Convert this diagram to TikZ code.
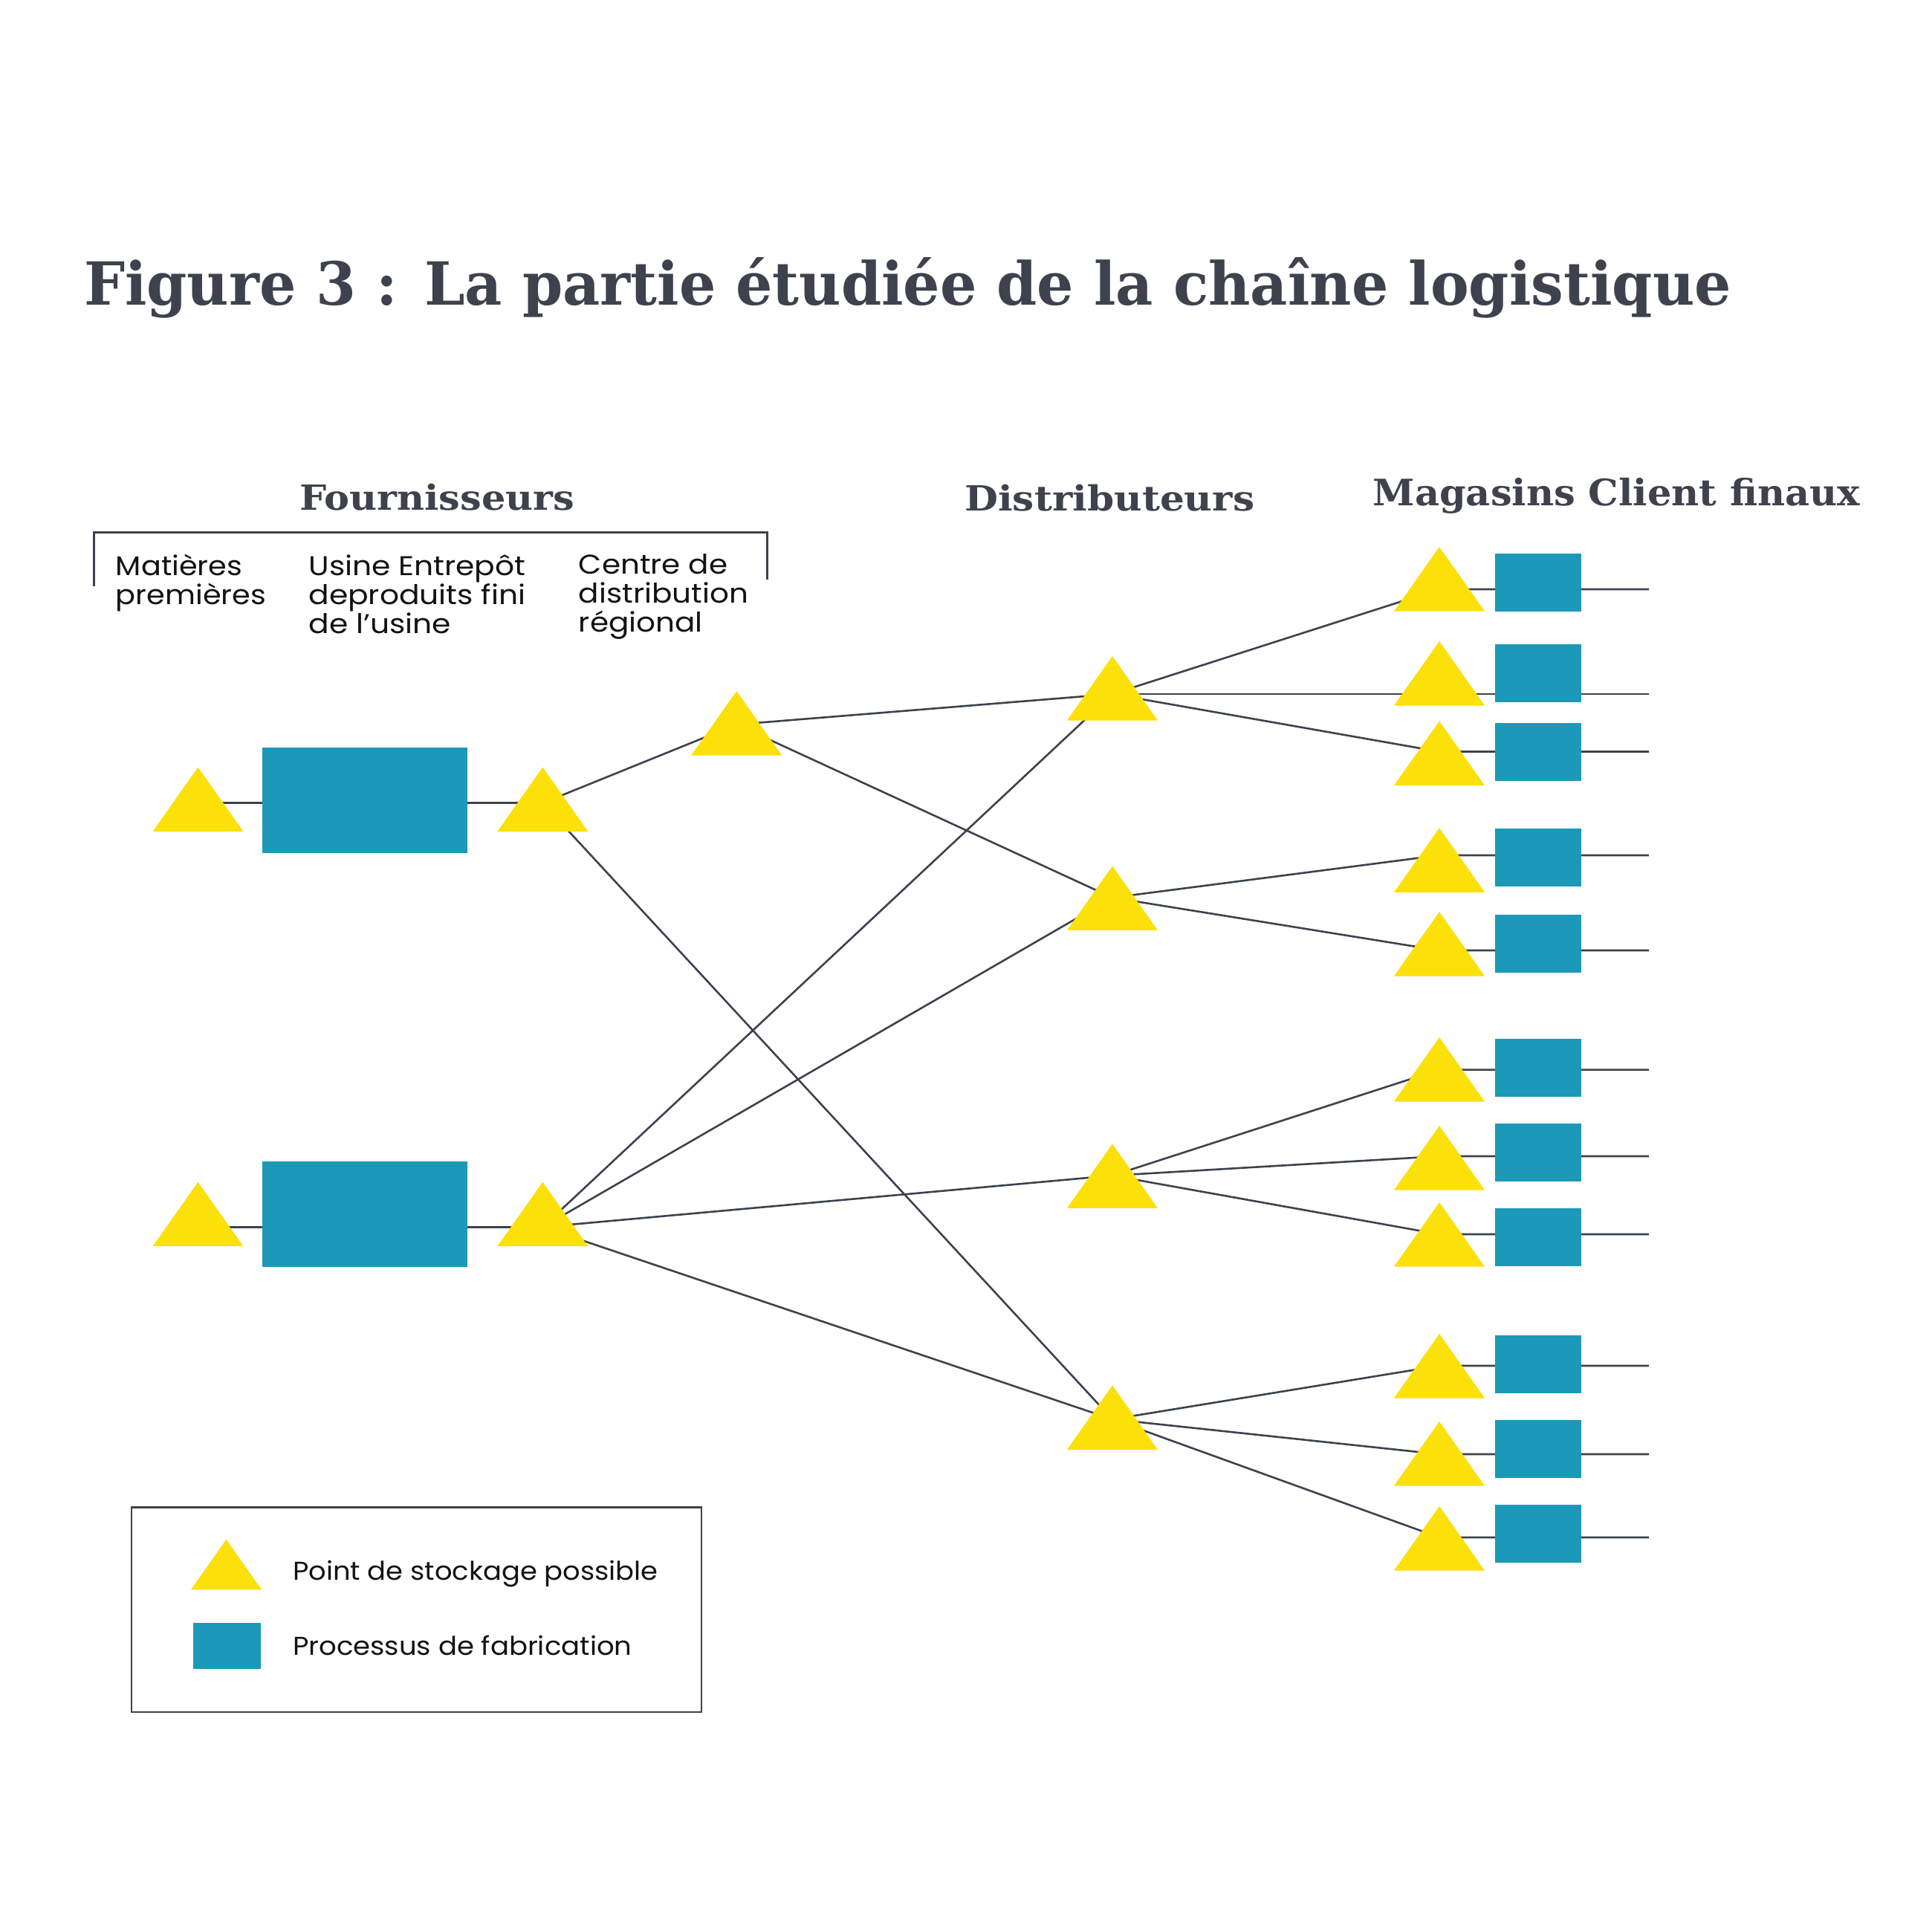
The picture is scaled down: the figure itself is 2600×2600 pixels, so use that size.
\documentclass[tikz,border=0pt]{standalone}
\usepackage{fontspec}
\usepackage{graphicx}
\setmainfont{Poppins}
\newfontfamily\slabfont{DejaVu Serif}
\definecolor{ink}{RGB}{61,66,77}
\definecolor{yel}{RGB}{252,224,10}
\definecolor{blu}{RGB}{28,153,185}
\definecolor{txt}{RGB}{18,18,18}
\pgfdeclarelayer{bg}
\pgfdeclarelayer{paper}
\pgfsetlayers{paper,bg,main}
\newsavebox\fitbox
\newcommand\fitw[2]{\sbox\fitbox{#2}\pgfmathsetmacro\fitf{#1/\the\wd\fitbox}\scalebox{\fitf}[1]{\usebox\fitbox}}
\newcommand\tri[2]{\fill[yel] (#1-61,#2+86.5) -- (#1,#2) -- (#1+61,#2+86.5) -- cycle;}
\tikzset{
  conn/.style={draw=ink, line width=2.6pt},
  fab/.style={fill=blu, draw=none, inner sep=0pt, outer sep=0pt},
  head/.style={anchor=base west, inner sep=0pt, text=ink},
  lab/.style={anchor=base west, inner sep=0pt, text=txt},
}
\begin{document}
\begin{tikzpicture}[x=1pt,y=-1pt]
\begin{pgfonlayer}{paper}
\fill[white] (0,0) rectangle (2600,2600);
\end{pgfonlayer}
\useasboundingbox (0,0) rectangle (2600,2600);

% title and headers
\node[head] (title) at (112.8,410) {\fitw{2217}{\fontsize{80}{96}\selectfont\slabfont\bfseries Figure 3 : La partie étudiée de la chaîne logistique}};
\node[head] (hfour) at (403,686) {\fitw{370}{\fontsize{46.6}{56}\selectfont\slabfont\bfseries Fournisseurs}};
\node[head] (hdist) at (1298,687) {\fitw{390}{\fontsize{46.6}{56}\selectfont\slabfont\bfseries Distributeurs}};
\node[head] (hmag) at (1847.4,680) {\fitw{655.6}{\fontsize{49}{58}\selectfont\slabfont\bfseries Magasins Client finaux}};

% bracket
\coordinate (bl) at (126.3,789.4);
\coordinate (blt) at (126.3,716.7);
\coordinate (brt) at (1032.6,716.7);
\coordinate (br) at (1032.6,779.9);
\draw[conn] (bl) -- (blt) -- (brt) -- (br);

% sub labels
\node[lab] (lmat) at (155.7,774) {\fitw{202}{\fontsize{36.5}{37.4}\selectfont\begin{tabular}[t]{@{}l@{}}Matières\\premières\end{tabular}}};
\node[lab] (lusi) at (415.3,774) {\fitw{292}{\fontsize{36.5}{37.4}\selectfont\begin{tabular}[t]{@{}l@{}}Usine Entrepôt\\deproduits fini\\de l’usine\end{tabular}}};
\node[lab] (lcen) at (778.7,772) {\fitw{228}{\fontsize{36.5}{37.4}\selectfont\begin{tabular}[t]{@{}l@{}}Centre de\\distribution\\régional\end{tabular}}};

% hubs
\coordinate (h1) at (266.5,1080.7);
\coordinate (h2) at (730.3,1080.7);
\coordinate (h3) at (991.2,975);
\coordinate (h4) at (266.5,1651.3);
\coordinate (h5) at (730.3,1651.3);
\coordinate (d1) at (1497,934);
\coordinate (d2) at (1497,1208);
\coordinate (d3) at (1497,1582);
\coordinate (d4) at (1497,1910);

% factory boxes
\node[fab, minimum width=276.4pt, minimum height=141.6pt] (f1) at (491,1077.2) {};
\node[fab, minimum width=276.4pt, minimum height=142pt] (f2) at (491,1634.3) {};

\begin{pgfonlayer}{bg}
\draw[conn] (h1) -- (h2);
\draw[conn] (h4) -- (h5);
\draw[conn] (h2) -- (h3);
\draw[conn] (h2) -- (d4);
\draw[conn] (h3) -- (d1);
\draw[conn] (h3) -- (d2);
\draw[conn] (h5) -- (d1);
\draw[conn] (h5) -- (d2);
\draw[conn] (h5) -- (d3);
\draw[conn] (h5) -- (d4);
\end{pgfonlayer}

% storage triangles, left part
\tri{266.5}{1032.5}
\tri{730.3}{1032.5}
\tri{991.2}{930}
\tri{266.5}{1590.7}
\tri{730.3}{1590.7}
% distributors
\tri{1497}{883}
\tri{1497}{1165.4}
\tri{1497}{1539.4}
\tri{1497}{1864.3}

% shops
\foreach \n/\ly/\ay/\bt/\bb/\d in {
  1/793/736/744.5/823/d1,
  2/934/863/867/945/d1,
  3/1011.5/970.5/972.5/1051/d1,
  4/1151/1114.3/1115/1193.3/d2,
  5/1279/1227/1231/1309/d2,
  6/1439.6/1396/1398/1476/d3,
  7/1556/1515/1512/1590/d3,
  8/1661/1618/1626/1704/d3,
  9/1838/1795/1797/1875/d4,
  10/1957/1913/1911/1989/d4,
  11/2069/2027/2025/2103/d4}{
  \coordinate (m\n) at (1937,\ly);
  \coordinate (e\n) at (2219,\ly);
  \pgfmathsetmacro\bh{\bb-\bt}
  \pgfmathsetmacro\bc{(\bb+\bt)/2}
  \node[fab, minimum width=116pt, minimum height=\bh pt] (s\n) at (2070,\bc) {};
  \begin{pgfonlayer}{bg}
    \draw[conn] (\d) -- (m\n) -- (e\n);
  \end{pgfonlayer}
  \tri{1937}{\ay}
}

% legend
\node[draw=ink, line width=2.6pt, inner sep=0pt, minimum width=766.9pt, minimum height=275.7pt] (legend) at (560.55,2166.15) {};
\fill[yel] (257,2139.3) -- (304.5,2071.7) -- (352,2139.3) -- cycle;
\node[fab, minimum width=91pt, minimum height=61.7pt] (lsq) at (305.5,2215.15) {};
\node[lab] (ltri) at (393.9,2126) {\fitw{491.6}{\fontsize{34.7}{40}\selectfont Point de stockage possible}};
\node[lab] (lfab) at (393.9,2227.7) {\fitw{456.4}{\fontsize{34.7}{40}\selectfont Processus de fabrication}};
\end{tikzpicture}
\end{document}
